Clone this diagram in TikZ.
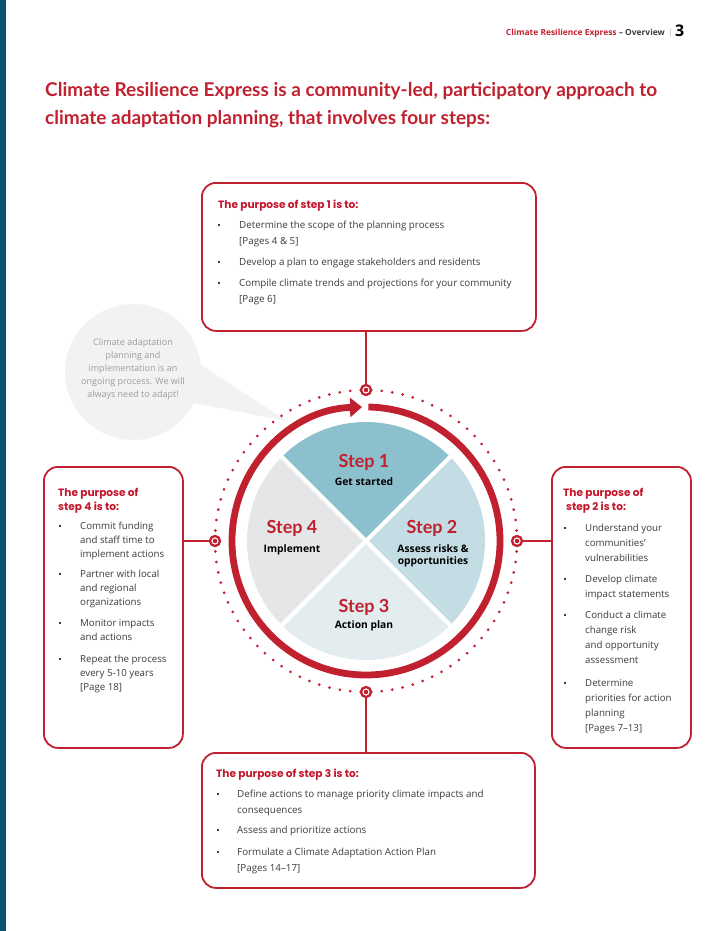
\documentclass[tikz,border=0pt]{standalone}
\usepackage{fontspec}
\setmainfont{Open Sans}
\newfontfamily\displayfont{Lato}
\newfontfamily\headfont{Poppins}
\usetikzlibrary{arrows.meta}

\definecolor{crRed}{HTML}{C1202F}
\definecolor{headRed}{HTML}{C4162B}
\definecolor{bodyGray}{HTML}{3C3C3C}
\definecolor{stripBlue}{HTML}{0C5371}
\definecolor{secOne}{HTML}{8DC0CD}
\definecolor{secTwo}{HTML}{C4DCE3}
\definecolor{secThree}{HTML}{E3EDF0}
\definecolor{secFour}{HTML}{E5E6E7}
\definecolor{bubbleFill}{HTML}{F2F2F2}
\definecolor{bubbleText}{HTML}{9A9CA0}

% stacked lines whose baseline is the first line
\newcommand\toplines[1]{\begin{tabular}[t]{@{}l@{}}#1\end{tabular}}
\newcommand\toplinesc[1]{\begin{tabular}[t]{@{}c@{}}#1\end{tabular}}
% one bullet line: style, name, bullet x, text x, first baseline, text
\newcommand\puritem[6]{%
  \node[bulletdot] (#2-dot) at (#3,#5-3.2) {};
  \node[#1] (#2) at (#4,#5) {\toplines{#6}};}

\begin{document}
\begin{tikzpicture}[x=1pt,y=-1pt,
  purposebox/.style={draw=crRed, line width=1.8pt, rounded corners=14pt, fill=white,
    anchor=north west, inner sep=0},
  heading/.style={anchor=base west, inner sep=0, text=headRed,
    font=\headfont\bfseries\fontsize{10.6}{14}\selectfont},
  itemtop/.style={anchor=base west, inner sep=0, text=bodyGray,
    font=\fontsize{9.8}{16.3}\selectfont},
  itemleft/.style={anchor=base west, inner sep=0, text=bodyGray,
    font=\fontsize{9.7}{14.2}\selectfont},
  itemright/.style={anchor=base west, inner sep=0, text=bodyGray,
    font=\fontsize{9.7}{15.2}\selectfont},
  bulletdot/.style={fill=bodyGray, minimum size=2pt, inner sep=0, rectangle},
  link/.style={draw=crRed, line width=1.3pt},
  marker/.style={circle, draw=crRed, line width=2.3pt, fill=white, minimum size=10pt,
    inner sep=0, path picture={\fill[crRed] (path picture bounding box.center) circle (2.3pt);}},
  steptitle/.style={anchor=base, inner sep=0, text=crRed, font=\displayfont\bfseries\fontsize{18}{20}\selectfont},
  stepsub/.style={anchor=base, inner sep=0, text=black,
    font=\bfseries\fontsize{10.3}{12.5}\selectfont},
]
\useasboundingbox (0,0) rectangle (710,931);

% page edge band
\fill[stripBlue] (0,0) rectangle (6,931);

% running header
\node[anchor=base east, inner sep=0, font=\bfseries\fontsize{8.4}{10}\selectfont] (hdr) at (665,36)
  {\textcolor{crRed}{Climate Resilience Express} \textcolor{bodyGray}{– Overview}};
\node[anchor=base, inner sep=0, text=black!35, font=\fontsize{8}{10}\selectfont] (hdrbar) at (670.5,36) {|};
\node[anchor=base west, inner sep=0, font=\bfseries\fontsize{16}{18}\selectfont] (pagenum) at (675,37) {3};

% title
\node[anchor=base west, inner sep=0, text=crRed, font=\displayfont\bfseries\fontsize{19}{28}\selectfont] (title) at (45,97)
  {\toplines{Climate Resilience Express is a community-led, participatory approach to\\
   climate adaptation planning, that involves four steps:}};

% speech bubble
\coordinate (tip) at (287,421);
\node[circle, fill=bubbleFill, minimum size=136pt, inner sep=0] (bubble) at (133,372) {};
\fill[bubbleFill] (bubble.6) -- (tip) -- (bubble.-27) -- cycle;
\node[align=center, inner sep=0, text=bubbleText, font=\fontsize{9}{13}\selectfont] (bubbletext) at (133,369)
  {Climate adaptation\\planning and\\implementation is an\\ongoing process. We will\\always need to adapt!};

% the cycle
\begin{scope}[shift={(366,541)}, y=1pt]
  \fill[secOne]   (0,0) -- (45:119)  arc[start angle=45,  end angle=135, radius=119] -- cycle;
  \fill[secFour]  (0,0) -- (135:119) arc[start angle=135, end angle=225, radius=119] -- cycle;
  \fill[secThree] (0,0) -- (225:119) arc[start angle=225, end angle=315, radius=119] -- cycle;
  \fill[secTwo]   (0,0) -- (315:119) arc[start angle=315, end angle=405, radius=119] -- cycle;
  \draw[white, line width=4pt] (45:121) -- (225:121);
  \draw[white, line width=4pt] (135:121) -- (315:121);
  % outer dotted track
  \foreach \k in {1,...,89} {
    \pgfmathsetmacro\ang{\k*4}
    \pgfmathtruncatemacro\rest{mod(\k,45)}
    \ifnum\rest=0\relax\else
      \fill[crRed] (\ang:151) circle (1.5pt);
    \fi
  }
  % heavy ring with arrow
  \draw[crRed, line width=6.8pt, -{Triangle[length=12pt,width=19pt]}]
    (89:134) arc[start angle=89, end angle=-268.3, radius=134];
  % junction markers
  \node[marker] (mTop)    at (90:151)  {};
  \node[marker] (mRight)  at (0:151)   {};
  \node[marker] (mBottom) at (270:151) {};
  \node[marker] (mLeft)   at (180:151) {};
\end{scope}

% sector labels
\node[steptitle] (s1) at (364,467) {Step 1};
\node[stepsub]   (s1t) at (364,485) {Get started};
\node[steptitle] (s2) at (432,533) {Step 2};
\node[stepsub]   (s2t) at (433,552) {\toplinesc{Assess risks \&\\opportunities}};
\node[steptitle] (s3) at (364,612) {Step 3};
\node[stepsub]   (s3t) at (364,628) {Action plan};
\node[steptitle] (s4) at (292,533) {Step 4};
\node[stepsub]   (s4t) at (292,552) {Implement};

% step 1 box
\node[purposebox, minimum width=334pt, minimum height=148pt] (box1) at (201,182) {};
\node[heading] (h1) at (218,208) {The purpose of step 1 is to:};
\puritem{itemtop}{i11}{219}{239}{228}{Determine the scope of the planning process\\{[}Pages 4 \& 5{]}}
\puritem{itemtop}{i12}{219}{239}{265}{Develop a plan to engage stakeholders and residents}
\puritem{itemtop}{i13}{219}{239}{286.5}{Compile climate trends and projections for your community\\{[}Page 6{]}}

% step 3 box
\node[purposebox, minimum width=333pt, minimum height=135pt] (box3) at (201,752) {};
\node[heading] (h3) at (216,777) {The purpose of step 3 is to:};
\puritem{itemtop}{i31}{218}{237}{797}{Define actions to manage priority climate impacts and\\consequences}
\puritem{itemtop}{i32}{218}{237}{833}{Assess and prioritize actions}
\puritem{itemtop}{i33}{218}{237}{855}{Formulate a Climate Adaptation Action Plan\\{[}Pages 14–17{]}}

% step 4 box
\node[purposebox, minimum width=139pt, minimum height=281pt] (box4) at (43,466) {};
\node[heading] (h4) at (58,496) {\toplines{The purpose of\\step 4 is to:}};
\puritem{itemleft}{i41}{60}{80}{529}{Commit funding\\and staff time to\\implement actions}
\puritem{itemleft}{i42}{60}{80}{577}{Partner with local\\and regional\\organizations}
\puritem{itemleft}{i43}{60}{80}{626}{Monitor impacts\\and actions}
\puritem{itemleft}{i44}{60}{80}{662}{Repeat the process\\every 5-10 years\\{[}Page 18{]}}

% step 2 box
\node[purposebox, minimum width=139pt, minimum height=281pt] (box2) at (551,466) {};
\node[heading] (h2) at (563,496) {\toplines{The purpose of\\\hspace*{3pt}step 2 is to:}};
\puritem{itemright}{i21}{565}{585}{531}{Understand your\\communities'\\vulnerabilities}
\puritem{itemright}{i22}{565}{585}{582}{Develop climate\\impact statements}
\puritem{itemright}{i23}{565}{585}{618}{Conduct a climate\\change risk\\and opportunity\\assessment}
\puritem{itemright}{i24}{565}{585}{686}{Determine\\priorities for action\\planning\\{[}Pages 7–13{]}}

% connectors from the boxes to the markers
\draw[link] (mTop |- box1.south) -- (mTop);
\draw[link] (mBottom) -- (mBottom |- box3.north);
\draw[link] (box4.east |- mLeft) -- (mLeft);
\draw[link] (mRight) -- (box2.west |- mRight);
\end{tikzpicture}
\end{document}
